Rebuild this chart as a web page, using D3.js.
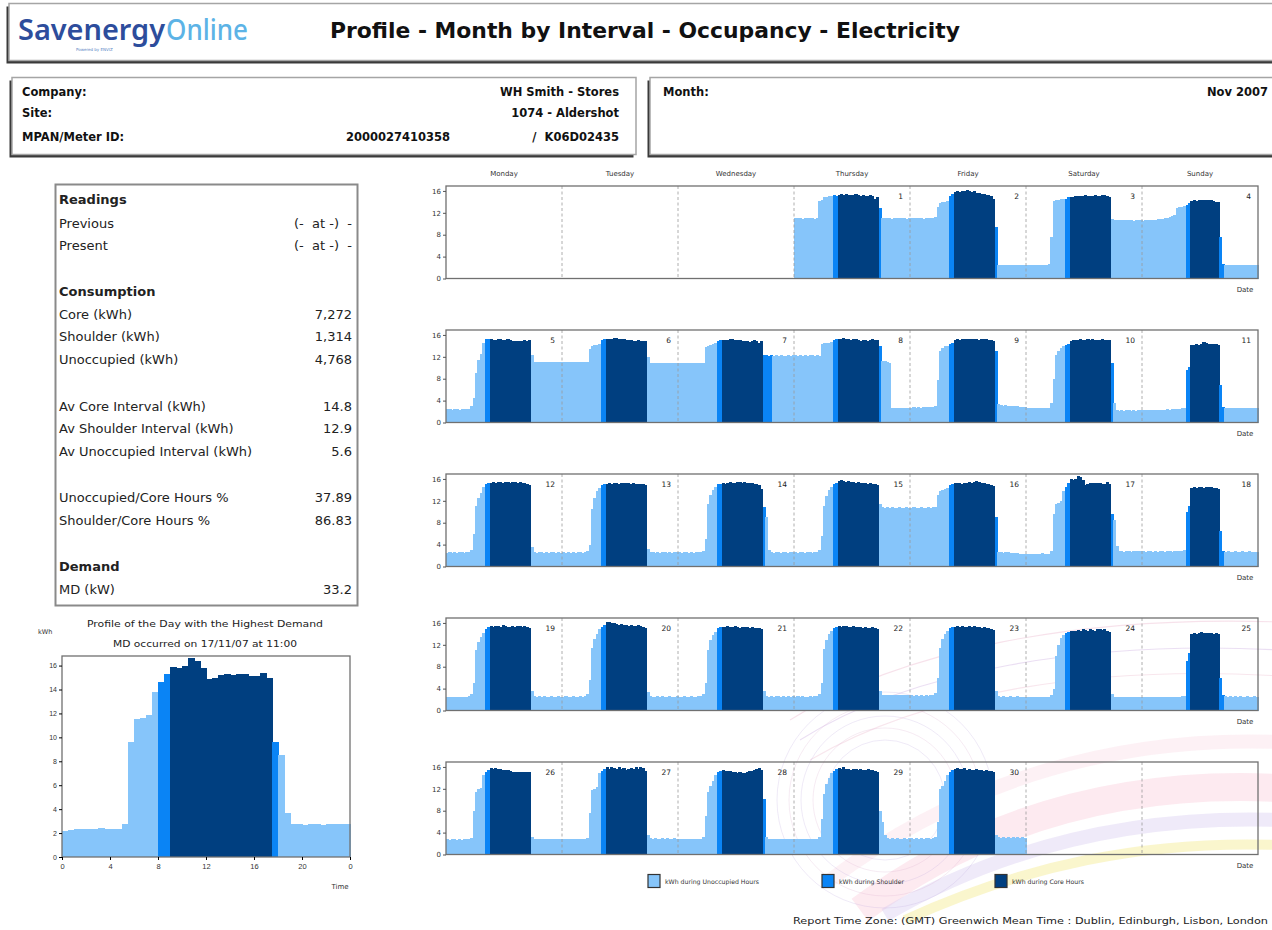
<!DOCTYPE html>
<html><head><meta charset="utf-8">
<script src="https://cdn.jsdelivr.net/npm/d3@7"></script>
<style>
html,body{margin:0;padding:0;background:#fff;}
svg{display:block;font-family:"DejaVu Sans",Verdana,sans-serif;}
</style></head><body>
<svg id="c" width="1272" height="930"></svg>
<script>
// ---------------- DATA ----------------
const weekdayNames = ["Monday","Tuesday","Wednesday","Thursday","Friday","Saturday","Sunday"];
const monthDates = [1,2,3,4,5,6,7,8,9,10,11,12,13,14,15,16,17,18,19,20,21,22,23,24,25,26,27,28,29,30];
const firstWeekdayOffset = 3; // 1 Nov 2007 = Thursday
// 48 half-hour kWh readings per day (00:00 .. 23:30)
const intervalKWh = [
"11.0 11.1 11.0 10.9 11.0 11.1 11.0 11.0 10.9 11.0  14.2 14.3 14.8 14.9 15.0 15.0  15.2 15.1  15.3 15.4 15.2 15.5 15.3 15.2 15.3 15.4 15.3 15.1 15.2 15.0 15.1 15.2 15.0 14.6 14.8  12.8 11.0 11.0 11.1 11.0 10.9 11.0 11.0 11.1 11.0 11.0 10.9 11.0",
"11.0 11.0 11.1 11.0 11.0 10.9 11.0 11.1 11.0 11.0  11.2 13.0 13.8 13.9 14.0 14.1  15.0 15.5  15.8 15.9 15.8 16.0 15.9 16.2 15.9 15.8 15.9 15.7 15.6 15.5 15.5 15.3 15.2 15.0 14.6  9.5 2.5 2.4 2.5 2.5 2.4 2.5 2.4 2.5 2.5 2.4 2.5 2.5",
"2.5 2.4 2.5 2.5 2.4 2.4 2.5 2.5 2.4 2.6  7.5 14.2 14.4 14.3 14.5 14.6  14.6 14.8  14.8 14.9 15.0 15.1 15.0 15.0 15.2 15.1 15.0 15.1 15.2 15.1 15.0 15.2 15.3 15.1 14.9  10.8 10.7 10.6 10.7 10.6 10.6 10.7 10.6 10.6 10.5 10.6 10.6 10.6",
"10.5 10.6 10.6 10.7 10.6 10.7 10.8 10.8 10.9 11.0 11.1 11.2 11.4 11.6 12.8 13.0 13.1 13.2  13.5 13.8  14.2 14.3 14.2 14.3 14.4 14.3 14.3 14.4 14.3 14.2 14.0 13.9  7.6 2.6  2.4 2.4 2.5 2.4 2.4 2.5 2.4 2.4 2.5 2.4 2.4 2.4 2.5 2.4",
"2.4 2.4 2.3 2.4 2.4 2.3 2.4 2.4 2.4 2.5  3.0 4.5 9.0 11.5 12.5 14.5  15.2 15.3  15.2 15.0 15.1 15.3 15.2 15.0 15.1 15.2 15.0 14.9 14.8 14.9 14.8 14.9 15.0 14.9 15.0  12.4 11.0 11.0 11.1 11.0 11.0 11.1 11.0 11.0 11.0 11.1 11.0 11.0",
"11.0 11.1 11.0 11.0 11.1 11.0 11.0 11.0 11.1 11.0  11.1 13.5 14.0 14.1 14.2 14.3  15.0 15.2  15.2 15.3 15.2 15.4 15.5 15.3 15.2 15.3 15.1 15.0 15.0 14.9 14.9 15.0 14.8 14.9 14.8  12.0 10.8 10.9 10.8 10.8 10.9 10.8 10.8 10.9 10.8 10.8 10.8 10.9",
"10.8 10.8 10.9 10.8 10.8 10.9 10.8 10.8 10.8 10.9  10.8 13.8 14.0 14.2 14.3 14.5  14.8 15.0  15.0 15.1 15.0 15.2 15.3 15.1 15.0 15.1 14.9 14.8 14.9 14.7 14.8 15.0 14.9 14.6 14.8  12.3 12.3 12.2 12.3 12.2 12.3 12.2 12.3 12.2 12.2 12.3 12.2 12.3",
"12.3 12.2 12.3 12.2 12.3 12.2 12.3 12.3 12.2 12.3  12.2 14.4 14.5 14.6 14.6 14.7  15.0 15.2  15.3 15.2 15.4 15.3 15.2 15.1 15.3 15.2 15.0 14.9 15.0 15.1 14.9 15.0 15.2 15.1 15.0  13.9 11.2 11.2 11.0 10.8 2.7 2.6 2.7 2.6 2.7 2.6 2.6 2.7",
"2.7 2.8 2.7 2.8 2.7 2.8 2.9 2.8 2.8 2.9  3.0 7.8 13.0 13.6 13.9 14.0  14.3 14.6  15.1 15.2 15.1 15.3 15.2 15.2 15.3 15.2 15.3 15.2 15.1 15.2 15.3 15.2 15.1 15.0 14.8  13.0 3.3 3.2 3.1 3.2 3.1 3.0 3.1 3.0 3.0 2.9 2.8 2.8",
"2.7 2.6 2.7 2.6 2.6 2.7 2.6 2.6 2.7 2.7  3.5 8.0 12.4 13.0 13.6 14.0  14.2 14.4  14.8 15.0 15.1 15.0 15.2 15.1 15.0 15.2 15.1 15.2 15.1 15.0 15.1 15.2 15.0 15.1 15.0  10.9 3.5 2.2 2.1 2.2 2.1 2.2 2.2 2.1 2.2 2.1 2.2 2.2",
"2.2 2.3 2.2 2.2 2.3 2.2 2.3 2.2 2.3 2.3 2.4 2.3 2.4 2.4 2.5 2.5 2.6 2.6  9.6 10.2  14.2 14.2 14.3 14.2 14.4 14.7 14.5 14.3 14.4 14.3 14.4 14.2  6.9 2.8  2.7 2.6 2.7 2.6 2.7 2.6 2.7 2.6 2.7 2.6 2.7 2.6 2.7 2.7",
"2.5 2.6 2.5 2.6 2.5 2.6 2.6 2.5 2.6 2.7  3.0 6.0 11.0 12.5 13.5 14.5  15.0 15.2  15.3 15.4 15.3 15.5 15.4 15.3 15.5 15.4 15.3 15.4 15.5 15.3 15.4 15.3 15.2 15.0 14.8  3.5 2.6 2.5 2.6 2.6 2.5 2.6 2.5 2.6 2.6 2.5 2.6 2.5",
"2.6 2.5 2.6 2.5 2.6 2.5 2.6 2.6 2.5 2.6  2.8 4.0 10.5 12.5 13.8 14.3  14.8 15.0  15.1 15.2 15.1 15.3 15.2 15.1 15.3 15.2 15.3 15.2 15.1 15.2 15.1 15.0 15.1 15.0 14.8  3.2 2.6 2.6 2.5 2.6 2.5 2.6 2.6 2.5 2.6 2.5 2.6 2.6",
"2.6 2.5 2.6 2.6 2.5 2.6 2.5 2.6 2.6 2.6  2.9 5.0 11.5 13.0 14.0 14.5  15.0 15.1  15.2 15.1 15.3 15.4 15.2 15.3 15.4 15.5 15.3 15.4 15.3 15.2 15.3 15.1 15.0 14.8 14.2  10.8 9.0 3.0 2.6 2.5 2.6 2.6 2.5 2.6 2.6 2.5 2.6 2.6",
"2.6 2.5 2.6 2.6 2.5 2.6 2.6 2.5 2.6 2.7  3.0 5.5 11.0 12.8 14.0 14.6  15.0 15.3  15.6 15.8 15.7 15.5 15.6 15.4 15.5 15.3 15.4 15.2 15.3 15.2 15.1 15.2 15.0 15.1 14.9  11.5 10.8 10.7 10.8 10.7 10.8 10.7 10.7 10.8 10.7 10.7 10.8 10.7",
"10.7 10.8 10.7 10.7 10.8 10.7 10.7 10.8 10.7 10.8  10.8 13.0 13.8 14.0 14.2 14.4  14.8 15.0  15.2 15.3 15.2 15.1 15.3 15.2 15.4 15.3 15.5 15.6 15.5 15.3 15.2 15.1 15.0 14.9 14.7  9.0 2.6 2.6 2.5 2.6 2.6 2.5 2.5 2.4 2.4 2.3 2.3 2.2",
"2.2 2.25 2.3 2.3 2.3 2.3 2.45 2.35 2.3 2.3  2.8 9.6 11.5 11.6 11.9 13.8  14.6 15.3  15.9 15.8 16.0 16.6 16.4 15.8 14.9 15.0 15.2 15.3 15.2 15.3 15.3 15.1 15.1 15.4 15.0  9.6 8.5 3.7 2.8 2.8 2.7 2.8 2.8 2.7 2.8 2.8 2.8 2.8",
"2.8 2.7 2.8 2.8 2.7 2.8 2.7 2.8 2.8 2.7 2.8 2.8 2.7 2.8 2.8 2.9 2.9 3.0  10.0 11.0  14.4 14.5 14.4 14.6 14.5 14.4 14.5 14.6 14.5 14.4 14.3 14.2  6.5 2.9  2.7 2.8 2.7 2.7 2.8 2.7 2.7 2.8 2.7 2.7 2.8 2.7 2.7 2.7",
"2.5 2.4 2.5 2.5 2.4 2.5 2.5 2.4 2.5 2.6  3.0 5.0 11.0 12.5 13.5 14.2  14.8 15.2  15.4 15.3 15.5 15.4 15.3 15.6 15.4 15.3 15.2 15.4 15.3 15.5 15.4 15.3 15.4 15.2 15.0  3.5 2.6 2.5 2.6 2.5 2.6 2.5 2.5 2.6 2.5 2.5 2.6 2.5",
"2.5 2.6 2.5 2.5 2.6 2.5 2.5 2.6 2.5 2.6  3.0 5.5 11.5 13.0 14.0 14.8  15.2 15.6  16.1 16.2 15.9 16.0 15.8 15.7 15.8 15.6 15.7 15.5 15.6 15.4 15.5 15.6 15.4 15.3 15.1  3.3 2.6 2.5 2.5 2.6 2.5 2.6 2.5 2.5 2.6 2.5 2.5 2.6",
"2.5 2.5 2.6 2.5 2.5 2.6 2.5 2.5 2.6 2.6  3.0 5.0 11.0 12.8 13.8 14.4  15.0 15.2  15.3 15.2 15.4 15.3 15.2 15.4 15.3 15.1 15.2 15.3 15.2 15.1 15.2 15.0 15.1 15.0 14.8  3.5 2.6 2.5 2.6 2.5 2.6 2.6 2.5 2.6 2.5 2.6 2.5 2.6",
"2.5 2.6 2.5 2.6 2.5 2.5 2.6 2.5 2.6 2.6  3.0 5.0 11.2 12.8 13.9 14.5  15.0 15.3  15.4 15.3 15.5 15.4 15.3 15.2 15.4 15.3 15.2 15.3 15.1 15.2 15.0 15.1 15.2 15.0 14.8  3.6 2.9 2.8 2.9 2.8 2.8 2.9 2.8 2.8 2.9 2.8 2.8 2.8",
"2.8 2.7 2.8 2.7 2.8 2.7 2.8 2.7 2.8 2.8  3.2 6.0 11.5 13.0 14.0 14.6  15.0 15.3  15.3 15.4 15.3 15.5 15.3 15.2 15.4 15.3 15.4 15.2 15.3 15.1 15.2 15.0 15.1 14.9 14.7  3.5 2.6 2.5 2.6 2.5 2.5 2.6 2.5 2.5 2.6 2.5 2.5 2.5",
"2.5 2.4 2.5 2.4 2.5 2.5 2.4 2.5 2.5 2.5  2.8 4.0 10.0 12.0 13.2 13.8  14.2 14.4  14.5 14.6 14.5 14.7 14.6 14.8 14.7 14.6 14.8 14.7 14.6 14.8 14.9 14.7 14.8 14.6 14.4  3.0 2.5 2.4 2.5 2.4 2.5 2.5 2.4 2.5 2.4 2.5 2.5 2.4",
"2.4 2.5 2.4 2.4 2.5 2.4 2.4 2.5 2.4 2.5 2.4 2.5 2.5 2.4 2.5 2.5 2.6 2.6  9.0 10.5  14.0 14.1 14.0 14.2 14.3 14.1 14.2 14.1 14.2 14.0 14.1 13.9  6.0 2.8  2.6 2.5 2.6 2.5 2.6 2.5 2.6 2.5 2.5 2.6 2.5 2.5 2.6 2.5",
"2.8 2.7 2.8 2.8 2.7 2.8 2.7 2.8 2.8 2.8  3.0 8.0 11.5 12.0 12.2 14.5  15.0 15.5  15.8 15.7 15.8 15.6 15.7 15.5 15.4 15.5 15.3 15.0 15.1 15.0 15.1 15.0 15.1 15.0 15.1  3.2 2.9 2.8 2.9 2.8 2.9 2.9 2.8 2.9 2.8 2.9 2.9 2.8",
"2.8 2.9 2.8 2.8 2.9 2.8 2.8 2.9 2.8 2.9  3.0 7.5 11.8 12.0 12.3 14.8  15.3 15.6  15.9 15.7 16.0 15.8 15.6 15.9 15.7 15.8 15.5 15.6 15.8 15.6 15.9 15.7 16.0 15.8 15.2  3.5 3.0 2.9 3.0 2.9 2.9 3.0 2.9 3.0 2.9 2.9 3.0 2.9",
"2.9 2.8 2.9 2.9 2.8 2.9 2.8 2.9 2.9 2.9  3.2 7.0 11.5 12.5 13.5 14.5  15.0 15.3  15.5 15.3 15.2 15.3 15.1 15.0 14.9 15.0 14.8 14.9 15.0 15.2 15.3 15.5 15.7 15.8 15.4  10.2 3.2 2.9 2.8 2.9 2.8 2.9 2.9 2.8 2.9 2.8 2.9 2.9",
"2.9 2.8 2.9 2.8 2.9 2.8 2.9 2.9 2.8 2.9  3.2 6.5 11.0 12.8 14.0 14.8  15.3 15.6  15.8 15.7 15.9 15.6 15.7 15.5 15.6 15.7 15.5 15.6 15.4 15.5 15.6 15.4 15.5 15.3 15.0  8.0 6.0 3.5 3.0 2.9 3.0 2.9 3.0 2.9 2.9 3.0 2.9 3.0",
"3.0 2.9 3.0 2.9 3.0 2.9 3.0 3.0 2.9 3.0  3.2 6.0 12.0 12.5 13.5 14.5  15.0 15.5  15.6 15.8 15.7 15.6 15.8 15.5 15.6 15.4 15.5 15.6 15.4 15.5 15.3 15.4 15.2 15.3 15.0  3.5 3.2 3.1 3.2 3.1 3.2 3.1 3.2 3.1 3.2 3.1 3.2 3.1"
];
// [shoulder start, core start, core end, shoulder end] as half-hour slot indices
const occupancyBounds = [
[16,18,35,36],[16,18,35,36],[16,18,35,35],[18,20,32,34],[16,18,35,35],[16,18,35,35],[16,18,35,39],
[16,18,35,36],[16,18,35,36],[16,18,35,36],[18,20,32,34],[16,18,35,35],[16,18,35,35],[16,18,35,36],
[16,18,35,35],[16,18,35,36],[16,18,35,36],[18,20,32,34],[16,18,35,35],[16,18,35,35],[16,18,35,35],
[16,18,35,35],[16,18,35,35],[16,18,35,35],[18,20,32,34],[16,18,35,35],[16,18,35,35],[16,18,35,36],
[16,18,35,35],[16,18,35,35]
];
const weekTicks = [0,4,8,12,16];
const dayTicksY = [0,2,4,6,8,10,12,14,16];
const dayTicksX = [0,4,8,12,16,20,24];
const dayTickLabels = ["0","4","8","12","16","20","0"];
const mdDate = 17;
const legendLabels = ["kWh during Unoccupied Hours","kWh during Shoulder","kWh during Core Hours"];
const infoLeft = [["Company:","WH Smith - Stores"],["Site:","1074 - Aldershot"],["MPAN/Meter ID:","/  K06D02435"]];
const meterMpan = "2000027410358";
const readingsRows = [
 ["Readings","","h"],["Previous","(-  at -)  -",""],["Present","(-  at -)  -",""],
 ["Consumption","","h"],["Core (kWh)","7,272",""],["Shoulder (kWh)","1,314",""],["Unoccupied (kWh)","4,768",""],
 ["Av Core Interval (kWh)","14.8",""],["Av Shoulder Interval (kWh)","12.9",""],["Av Unoccupied Interval (kWh)","5.6",""],
 ["Unoccupied/Core Hours %","37.89",""],["Shoulder/Core Hours %","86.83",""],
 ["Demand","","h"],["MD (kW)","33.2",""]
];
const readingsY = [204,228,250,296,319,341,364,411,433,456,502,525,571,594];

// ---------------- DRAW ----------------
const svg = d3.select("#c");
const colors = {u:"#86C5FA", s:"#0A84F5", c:"#003F80"};
function cat(i,o){ if(i<o[0]) return "u"; if(i<o[1]) return "s"; if(i<o[2]) return "c"; if(i<o[3]) return "s"; return "u"; }
const parsed = intervalKWh.map(s=>s.trim().split(/\s+/).map(Number));

// background decoration (watermark swoosh)
const deco = svg.append("g").attr("fill","none");
[["#f8c3d4",28,0.35,"M 860 910 C 980 820, 1120 780, 1280 788"],
 ["#d7cbef",14,0.4,"M 885 915 C 1005 845, 1135 815, 1280 820"],
 ["#f6ee9c",10,0.5,"M 905 920 C 1025 865, 1145 840, 1280 845"],
 ["#f9d2df",14,0.3,"M 830 880 C 950 790, 1100 735, 1280 742"],
 ["#eab6cc",1.1,0.4,"M 790 720 C 900 650, 1080 615, 1280 622"],
 ["#cdb0e0",1.1,0.4,"M 800 740 C 910 670, 1090 640, 1280 650"],
 ["#eab6cc",1.1,0.35,"M 810 760 C 930 690, 1100 665, 1280 676"]
].forEach(p=>deco.append("path").attr("d",p[3]).attr("stroke",p[0]).attr("stroke-width",p[1]).attr("opacity",p[2]));
[60,72,84,96,108].forEach((r,k)=>deco.append("circle").attr("cx",885).attr("cy",800).attr("r",r)
  .attr("stroke",k%2?"#d6a6c8":"#b9a0dc").attr("stroke-width",0.9).attr("opacity",0.25));

function box(x,y,w,h,shadow){
  if(shadow) svg.append("rect").attr("x",x-2.5).attr("y",y+3).attr("width",w).attr("height",h).attr("fill","#3a3a3a");
  svg.append("rect").attr("x",x).attr("y",y).attr("width",w).attr("height",h).attr("fill","#fff").attr("stroke","#a5a5a5").attr("stroke-width",1.5);
}
box(9,3.5,1275,57,true);
box(12,77.5,624,77,true);
box(650,77.5,640,77,true);

// logo + title
svg.append("text").attr("x",18).attr("y",40).attr("font-family","'Noto Sans',sans-serif").attr("font-size",28).attr("font-weight",600)
  .attr("fill","#2d4d9c").attr("textLength",147).attr("lengthAdjust","spacingAndGlyphs").text("Savenergy");
svg.append("text").attr("x",166).attr("y",40).attr("font-family","'Noto Sans',sans-serif").attr("font-size",28).attr("font-weight",500)
  .attr("fill","#5cb3e6").attr("textLength",82).attr("lengthAdjust","spacingAndGlyphs").text("Online");
svg.append("text").attr("x",76).attr("y",51).attr("font-size",4).attr("fill","#5a86c5").text("Powered by ENVIZ");
svg.append("text").attr("x",330).attr("y",38).attr("font-size",21).attr("font-weight","bold").attr("fill","#111")
  .attr("textLength",630).attr("lengthAdjust","spacingAndGlyphs").text("Profile - Month by Interval - Occupancy - Electricity");

// info boxes
const infoY = [96,117,141];
infoLeft.forEach((r,k)=>{
  svg.append("text").attr("x",22).attr("y",infoY[k]).attr("font-size",11.5).attr("font-weight","bold").attr("fill","#111").text(r[0]);
  svg.append("text").attr("x",619).attr("y",infoY[k]).attr("text-anchor","end").attr("font-size",11.5).attr("font-weight","bold").attr("fill","#111")
    .style("white-space","pre").text(r[1]);
});
svg.append("text").attr("x",450).attr("y",141).attr("text-anchor","end").attr("font-size",11.5).attr("font-weight","bold").attr("fill","#111").text(meterMpan);
svg.append("text").attr("x",663).attr("y",96).attr("font-size",11.5).attr("font-weight","bold").attr("fill","#111").text("Month:");
svg.append("text").attr("x",1268).attr("y",96).attr("text-anchor","end").attr("font-size",11.5).attr("font-weight","bold").attr("fill","#111").text("Nov 2007");

// readings box
svg.append("rect").attr("x",55.5).attr("y",184.5).attr("width",302).attr("height",421).attr("fill","#fff").attr("stroke","#8a8a8a").attr("stroke-width",2);
readingsRows.forEach((r,k)=>{
  svg.append("text").attr("x",59).attr("y",readingsY[k]).attr("font-size",13).attr("font-weight",r[2]==="h"?"bold":"normal")
    .attr("fill","#222").text(r[0]);
  if(r[1]) svg.append("text").attr("x",352).attr("y",readingsY[k]).attr("text-anchor","end").attr("font-size",13).attr("fill","#222")
    .style("white-space","pre").text(r[1]);
});

// ---------- weekly grid ----------
const gX0=446, gX1=1258, rowTop=[186,330,474,618,762], rowH=92.5;
const xW = d3.scaleLinear().domain([0,7*48]).range([gX0,gX1]);
const yW = d3.scaleLinear().domain([0,16.9]).range([rowH,0]);
const slotW = xW(1)-xW(0);
const rowG = rowTop.map(t=>svg.append("g").attr("transform",`translate(0,${t})`));

monthDates.forEach((d,di)=>{
  const cell = di+firstWeekdayOffset, r=Math.floor(cell/7), col=cell%7;
  const vals = parsed[di], occ = occupancyBounds[di];
  rowG[r].append("g").attr("shape-rendering","crispEdges").selectAll("rect").data(vals).join("rect")
    .attr("x",(v,i)=>xW(col*48+i)).attr("y",v=>yW(v))
    .attr("width",slotW+0.7).attr("height",v=>yW(0)-yW(v))
    .attr("fill",(v,i)=>colors[cat(i,occ)]);
});
rowG.forEach((g,r)=>{
  for(let k=1;k<7;k++) g.append("line").attr("x1",xW(k*48)).attr("x2",xW(k*48)).attr("y1",0).attr("y2",rowH)
    .attr("stroke","#9a9a9a").attr("stroke-width",0.8).attr("stroke-dasharray","3,2.5");
  g.append("rect").attr("x",gX0).attr("y",0).attr("width",gX1-gX0).attr("height",rowH).attr("fill","none").attr("stroke","#707070").attr("stroke-width",1.3);
  const ax = g.append("g").attr("transform",`translate(${gX0},0)`).call(d3.axisLeft(yW).tickValues(weekTicks).tickSize(3).tickPadding(2));
  ax.select(".domain").remove();
  ax.selectAll("line").attr("stroke","#555");
  ax.selectAll("text").attr("font-size",7).attr("fill","#333").attr("font-family","'DejaVu Sans',sans-serif");
  g.append("text").attr("x",1245).attr("y",rowH+13).attr("text-anchor","middle").attr("font-size",7).attr("fill","#333").text("Date");
});
monthDates.forEach((d,di)=>{
  const cell = di+firstWeekdayOffset, r=Math.floor(cell/7), col=cell%7;
  rowG[r].append("text").attr("x",xW(col*48+48)-7).attr("y",13).attr("text-anchor","end").attr("font-size",7.5).attr("fill","#222").text(d);
});
weekdayNames.forEach((n,k)=>svg.append("text").attr("x",xW(k*48+24)).attr("y",176).attr("text-anchor","middle")
  .attr("font-size",7).attr("fill","#333").text(n));

// legend
const legX=[648,822,995];
legendLabels.forEach((l,k)=>{
  svg.append("rect").attr("x",legX[k]).attr("y",874.5).attr("width",12).attr("height",13).attr("fill",colors[["u","s","c"][k]])
    .attr("stroke","#333").attr("stroke-width",1.2);
  svg.append("text").attr("x",legX[k]+17).attr("y",884).attr("font-size",6.2).attr("fill","#333").text(l);
});

// ---------- day with highest demand ----------
const dX = d3.scaleLinear().domain([0,24]).range([62,350]);
const dY = d3.scaleLinear().domain([0,16.8]).range([857,656]);
const mdIdx = monthDates.indexOf(mdDate);
svg.append("g").attr("shape-rendering","crispEdges").selectAll("rect").data(parsed[mdIdx]).join("rect")
  .attr("x",(v,i)=>dX(i/2)).attr("y",v=>dY(v)).attr("width",dX(0.5)-dX(0)+0.6).attr("height",v=>dY(0)-dY(v))
  .attr("fill",(v,i)=>colors[cat(i,occupancyBounds[mdIdx])]);
svg.append("rect").attr("x",62).attr("y",656).attr("width",288).attr("height",201).attr("fill","none").attr("stroke","#707070").attr("stroke-width",1.3);
const ayl = svg.append("g").attr("transform","translate(62,0)").call(d3.axisLeft(dY).tickValues(dayTicksY).tickSize(3).tickPadding(2));
ayl.select(".domain").remove();
ayl.selectAll("text").attr("font-size",7).attr("fill","#333");
const axb = svg.append("g").attr("transform","translate(0,857)").call(d3.axisBottom(dX).tickValues(dayTicksX).tickSize(3).tickPadding(4)
  .tickFormat((d,i)=>dayTickLabels[i]));
axb.select(".domain").remove();
axb.selectAll("text").attr("font-size",7.5).attr("fill","#333");
svg.append("text").attr("x",205).attr("y",627).attr("text-anchor","middle").attr("font-size",8.5).attr("fill","#222")
  .attr("textLength",236).attr("lengthAdjust","spacingAndGlyphs").text("Profile of the Day with the Highest Demand");
svg.append("text").attr("x",205).attr("y",647).attr("text-anchor","middle").attr("font-size",8.5).attr("fill","#222")
  .attr("textLength",184).attr("lengthAdjust","spacingAndGlyphs").text("MD occurred on 17/11/07 at 11:00");
svg.append("text").attr("x",38).attr("y",634).attr("font-size",6.5).attr("fill","#333").text("kWh");
svg.append("text").attr("x",340).attr("y",889).attr("text-anchor","middle").attr("font-size",7).attr("fill","#333").text("Time");

// footer
svg.append("text").attr("x",1268).attr("y",924).attr("text-anchor","end").attr("font-size",9.5).attr("fill","#222")
  .attr("textLength",475).attr("lengthAdjust","spacingAndGlyphs")
  .text("Report Time Zone: (GMT) Greenwich Mean Time : Dublin, Edinburgh, Lisbon, London");
</script>
</body></html>
